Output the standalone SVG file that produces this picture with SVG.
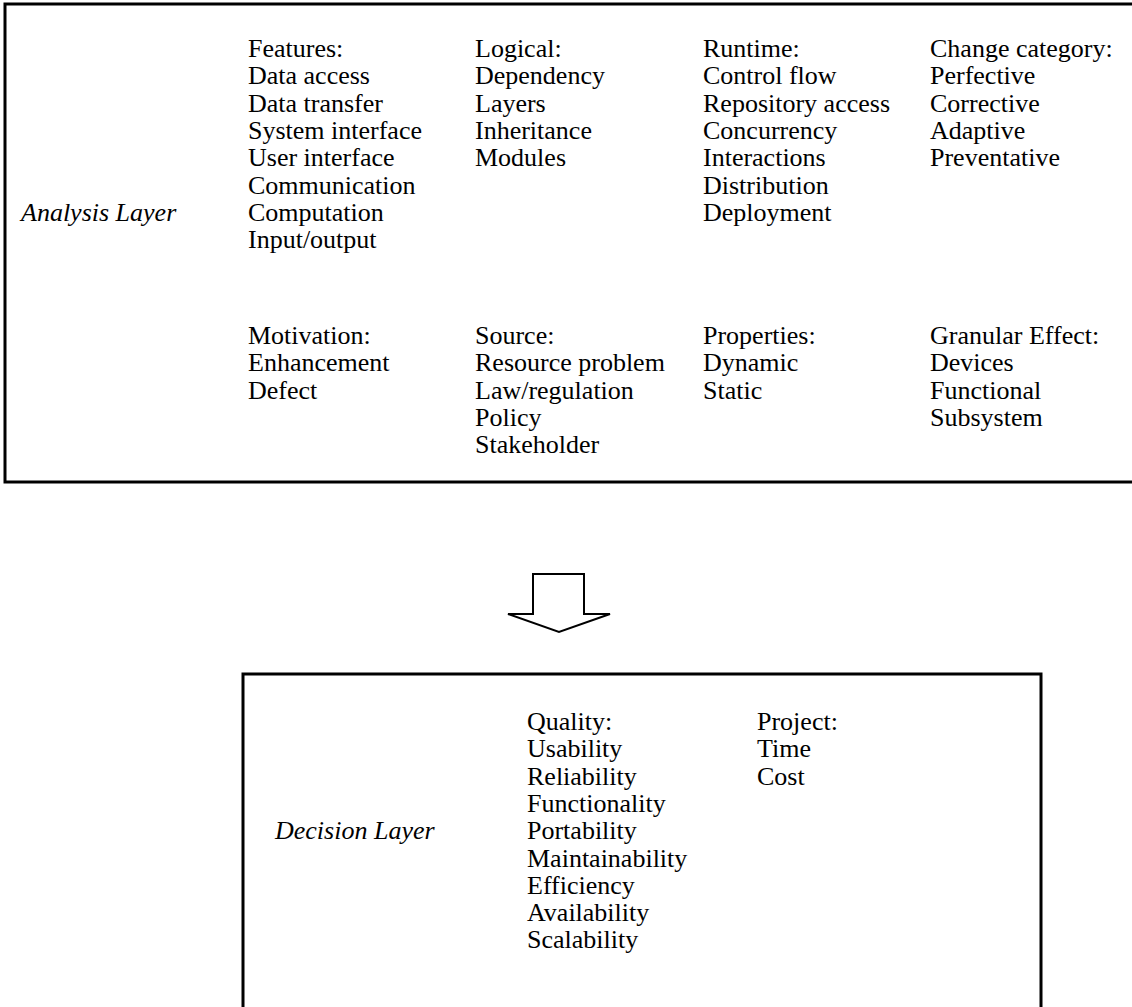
<svg xmlns="http://www.w3.org/2000/svg" width="1132" height="1007" viewBox="0 0 1132 1007">
<style>
text{font-family:"Liberation Serif","Times New Roman",serif;font-size:26px;fill:#000}
.it{font-style:italic}
.box{fill:#fff;stroke:#000;stroke-width:3}
.arr{fill:#fff;stroke:#000;stroke-width:2;stroke-linejoin:miter}
</style>
<rect width="1132" height="1007" fill="#fff"/>
<g id="analysis-layer">
<rect class="box" x="5" y="4" width="1140" height="478"/>
<text class="it" x="21" y="221">Analysis Layer</text>
<text x="248" y="57"><tspan x="248">Features:</tspan><tspan x="248" dy="27.3">Data access</tspan><tspan x="248" dy="27.3">Data transfer</tspan><tspan x="248" dy="27.3">System interface</tspan><tspan x="248" dy="27.3">User interface</tspan><tspan x="248" dy="27.3">Communication</tspan><tspan x="248" dy="27.3">Computation</tspan><tspan x="248" dy="27.3">Input/output</tspan></text>
<text x="475" y="57"><tspan x="475">Logical:</tspan><tspan x="475" dy="27.3">Dependency</tspan><tspan x="475" dy="27.3">Layers</tspan><tspan x="475" dy="27.3">Inheritance</tspan><tspan x="475" dy="27.3">Modules</tspan></text>
<text x="703" y="57"><tspan x="703">Runtime:</tspan><tspan x="703" dy="27.3">Control flow</tspan><tspan x="703" dy="27.3">Repository access</tspan><tspan x="703" dy="27.3">Concurrency</tspan><tspan x="703" dy="27.3">Interactions</tspan><tspan x="703" dy="27.3">Distribution</tspan><tspan x="703" dy="27.3">Deployment</tspan></text>
<text x="930" y="57"><tspan x="930">Change category:</tspan><tspan x="930" dy="27.3">Perfective</tspan><tspan x="930" dy="27.3">Corrective</tspan><tspan x="930" dy="27.3">Adaptive</tspan><tspan x="930" dy="27.3">Preventative</tspan></text>
<text x="248" y="344"><tspan x="248">Motivation:</tspan><tspan x="248" dy="27.3">Enhancement</tspan><tspan x="248" dy="27.3">Defect</tspan></text>
<text x="475" y="344"><tspan x="475">Source:</tspan><tspan x="475" dy="27.3">Resource problem</tspan><tspan x="475" dy="27.3">Law/regulation</tspan><tspan x="475" dy="27.3">Policy</tspan><tspan x="475" dy="27.3">Stakeholder</tspan></text>
<text x="703" y="344"><tspan x="703">Properties:</tspan><tspan x="703" dy="27.3">Dynamic</tspan><tspan x="703" dy="27.3">Static</tspan></text>
<text x="930" y="344"><tspan x="930">Granular Effect:</tspan><tspan x="930" dy="27.3">Devices</tspan><tspan x="930" dy="27.3">Functional</tspan><tspan x="930" dy="27.3">Subsystem</tspan></text>
</g>
<g id="connectors">
<path class="arr" d="M533,574 L584,574 L584,614 L610,614 L559,632 L508,614 L533,614 Z"/>
</g>
<g id="decision-layer">
<rect class="box" x="243" y="674" width="798" height="360"/>
<text class="it" x="275" y="839">Decision Layer</text>
<text x="527" y="730"><tspan x="527">Quality:</tspan><tspan x="527" dy="27.3">Usability</tspan><tspan x="527" dy="27.3">Reliability</tspan><tspan x="527" dy="27.3">Functionality</tspan><tspan x="527" dy="27.3">Portability</tspan><tspan x="527" dy="27.3">Maintainability</tspan><tspan x="527" dy="27.3">Efficiency</tspan><tspan x="527" dy="27.3">Availability</tspan><tspan x="527" dy="27.3">Scalability</tspan></text>
<text x="757" y="730"><tspan x="757">Project:</tspan><tspan x="757" dy="27.3">Time</tspan><tspan x="757" dy="27.3">Cost</tspan></text>
</g>
</svg>
